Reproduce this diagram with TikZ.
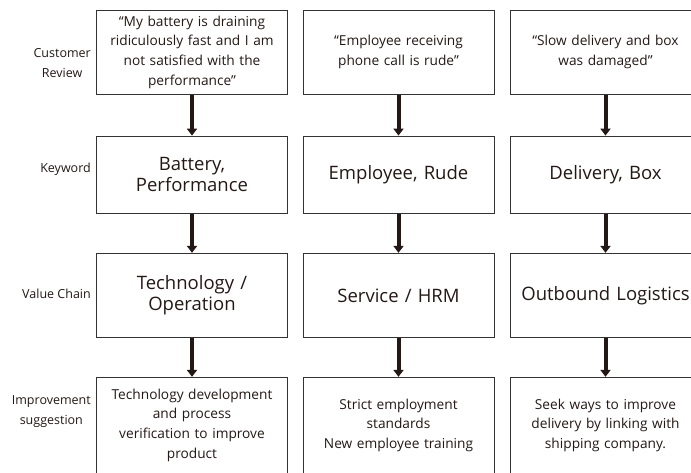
\documentclass[tikz,border=0pt]{standalone}
\usepackage{fontspec}
\setmainfont{Open Sans}
\usetikzlibrary{arrows.meta}
\definecolor{ink}{HTML}{231815}
\definecolor{frame}{HTML}{333333}
\begin{document}
\begin{tikzpicture}[x=1pt,y=-1pt,
  cell/.style={draw=frame, line width=0.9pt, minimum width=191pt, text width=186pt,
    align=center, inner sep=0pt, text=ink},
  small/.style={font=\fontsize{13.7}{19.8}\selectfont},
  big/.style={font=\fontsize{18.5}{21.5}\selectfont},
  rowlabel/.style={anchor=east, align=center, font=\fontsize{12.5}{19.5}\selectfont,
    text=ink, inner sep=0pt},
  flow/.style={draw=ink, line width=4pt, -{Triangle[width=10pt,length=7pt]}}
]
\useasboundingbox (0,0) rectangle (691,472);

% row labels
\node[rowlabel] (lab1) at (91,63) {Customer\\Review};
\node[rowlabel] (lab2) at (91,169.5) {Keyword};
\node[rowlabel] (lab3) at (91,293.5) {Value Chain};
\node[rowlabel] (lab4) at (91,411.5) {Improvement\\suggestion};

% customer reviews
\node[cell, small, minimum height=84.7pt] (r1c1) at (192,52.3)
  {“My battery is draining\\ridiculously fast and I am\\not satisfied with the\\performance”};
\node[cell, small, minimum height=84.7pt] (r1c2) at (398.5,52.3)
  {“Employee receiving\\phone call is rude”};
\node[cell, small, minimum height=84.7pt] (r1c3) at (605.5,52.3)
  {“Slow delivery and box\\was damaged”};

% keywords
\node[cell, big, minimum height=77.3pt] (r2c1) at (192,174.7) {Battery,\\Performance};
\node[cell, big, minimum height=77.3pt] (r2c2) at (398.5,174.7) {Employee, Rude};
\node[cell, big, minimum height=77.3pt] (r2c3) at (605.5,174.7) {Delivery, Box};

% value chain activities
\node[cell, big, minimum height=84pt] (r3c1) at (192,295.3) {Technology /\\Operation};
\node[cell, big, minimum height=84pt] (r3c2) at (398.5,295.3) {Service / HRM};
\node[cell, big, minimum height=84pt] (r3c3) at (605.5,295.3) {Outbound Logistics};

% improvement suggestions
\node[cell, small, minimum height=96pt] (r4c1) at (192,425.3)
  {Technology development\\and process\\verification to improve\\product};
\node[cell, small, minimum height=96pt] (r4c2) at (398.5,425.3)
  {Strict employment\\standards\\New employee training};
\node[cell, small, minimum height=96pt] (r4c3) at (605.5,425.3)
  {Seek ways to improve\\delivery by linking with\\shipping company.};

% flow arrows
\foreach \c in {1,2,3}{
  \draw[flow] (r1c\c) -- (r2c\c);
  \draw[flow] (r2c\c) -- (r3c\c);
  \draw[flow] (r3c\c) -- (r4c\c);
}
\end{tikzpicture}
\end{document}
